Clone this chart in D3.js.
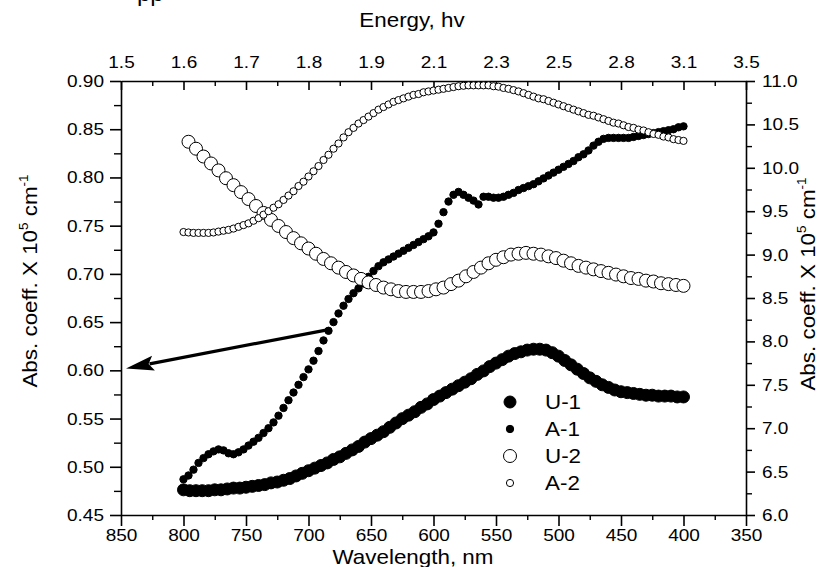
<!DOCTYPE html>
<html>
<head>
<meta charset="utf-8">
<script src="https://cdn.jsdelivr.net/npm/d3@7"></script>
<style>
  body { margin: 0; background: #fff; }
  svg { display: block; }
  text { font-family: "Liberation Sans", Arial, sans-serif; fill: #000; }
</style>
</head>
<body>
<div id="chart"></div>
<script>
// axis labels
const wavelengthTicks = [850, 800, 750, 700, 650, 600, 550, 500, 450, 400, 350];
const energyLabels = ["1.5", "1.6", "1.7", "1.8", "1.9", "2.1", "2.3", "2.5", "2.8", "3.1", "3.5"];
const leftTicks = [0.45, 0.50, 0.55, 0.60, 0.65, 0.70, 0.75, 0.80, 0.85, 0.90];
const rightTicks = [6.0, 6.5, 7.0, 7.5, 8.0, 8.5, 9.0, 9.5, 10.0, 10.5, 11.0];
const seriesNames = ["U-1", "A-1", "U-2", "A-2"];

// U-1: 800 -> 400 nm every 5 nm (right axis)
const u1Values = [
  6.29, 6.28, 6.28, 6.28, 6.28, 6.29, 6.29, 6.30, 6.31, 6.31,
  6.32, 6.33, 6.34, 6.35, 6.37, 6.38, 6.40, 6.42, 6.45, 6.48,
  6.51, 6.54, 6.57, 6.60, 6.64, 6.67, 6.71, 6.75, 6.79, 6.84,
  6.88, 6.92, 6.96, 7.01, 7.06, 7.11, 7.15, 7.19, 7.24, 7.28,
  7.33, 7.37, 7.41, 7.45, 7.49, 7.53, 7.57, 7.62, 7.66, 7.71,
  7.75, 7.79, 7.83, 7.86, 7.88, 7.90, 7.91, 7.91, 7.90, 7.87,
  7.83, 7.78, 7.73, 7.68, 7.63, 7.58, 7.54, 7.50, 7.47, 7.44,
  7.42, 7.41, 7.40, 7.39, 7.38, 7.38, 7.37, 7.37, 7.37, 7.36,
  7.36
];

// A-1: 800 -> 400 nm every 4 nm (left axis)
const a1Values = [
  0.487, 0.491, 0.497, 0.504, 0.509, 0.513, 0.516, 0.518, 0.517, 0.514,
  0.513, 0.515, 0.518, 0.522, 0.526, 0.530, 0.535, 0.540, 0.546, 0.553,
  0.561, 0.569, 0.577, 0.585, 0.593, 0.601, 0.610, 0.620, 0.631, 0.641,
  0.650, 0.659, 0.667, 0.674, 0.680, 0.685, 0.690, 0.697, 0.703, 0.708,
  0.712, 0.715, 0.718, 0.721, 0.724, 0.727, 0.730, 0.733, 0.736, 0.739,
  0.743, 0.752, 0.764, 0.775, 0.782, 0.785, 0.782, 0.779, 0.776, 0.772,
  0.780, 0.780, 0.779, 0.779, 0.780, 0.782, 0.784, 0.787, 0.789, 0.791,
  0.793, 0.796, 0.799, 0.802, 0.805, 0.808, 0.811, 0.814, 0.817, 0.821,
  0.824, 0.828, 0.833, 0.837, 0.840, 0.841, 0.841, 0.841, 0.841, 0.841,
  0.842, 0.843, 0.844, 0.845, 0.846, 0.847, 0.848, 0.849, 0.850, 0.852,
  0.853
];

// U-2: 796 -> 400 nm every 6 nm (right axis)
const u2Values = [
  10.30, 10.22, 10.13, 10.05, 9.97, 9.88, 9.80, 9.72, 9.64, 9.56,
  9.48, 9.40, 9.33, 9.26, 9.19, 9.13, 9.07, 9.01, 8.95, 8.90,
  8.85, 8.80, 8.76, 8.72, 8.68, 8.65, 8.62, 8.60, 8.58, 8.57,
  8.57, 8.57, 8.58, 8.60, 8.62, 8.66, 8.70, 8.75, 8.80, 8.85,
  8.90, 8.94, 8.97, 9.00, 9.01, 9.02, 9.01, 9.00, 8.98, 8.96,
  8.93, 8.90, 8.87, 8.85, 8.83, 8.81, 8.79, 8.77, 8.75, 8.73,
  8.72, 8.70, 8.69, 8.67, 8.66, 8.65, 8.64
];

// A-2: 800 -> 400 nm every 4 nm (right axis)
const a2Values = [
  9.26, 9.255, 9.25, 9.25, 9.25, 9.25, 9.255, 9.265, 9.275, 9.285,
  9.30, 9.32, 9.34, 9.36, 9.39, 9.42, 9.46, 9.50, 9.54, 9.58,
  9.63, 9.68, 9.73, 9.79, 9.84, 9.90, 9.96, 10.02, 10.09, 10.15,
  10.22, 10.28, 10.35, 10.41, 10.46, 10.51, 10.55, 10.59, 10.63, 10.67,
  10.70, 10.73, 10.76, 10.78, 10.80, 10.82, 10.84, 10.85, 10.87, 10.88,
  10.89, 10.90, 10.91, 10.92, 10.93, 10.94, 10.945, 10.95, 10.95, 10.95,
  10.95, 10.95, 10.94, 10.935, 10.92, 10.91, 10.895, 10.88, 10.86, 10.84,
  10.82, 10.80, 10.79, 10.77, 10.75, 10.73, 10.71, 10.69, 10.67, 10.65,
  10.63, 10.61, 10.60, 10.58, 10.56, 10.54, 10.52, 10.51, 10.49, 10.47,
  10.46, 10.44, 10.43, 10.41, 10.39, 10.38, 10.36, 10.35, 10.33, 10.32,
  10.31
];

// arrow from the A-1 curve to the left axis (wavelength, left value)
const arrowFrom = [685, 0.642];
const arrowTo = [846, 0.602];

const W = 818, H = 567;
const plotL = 121, plotR = 746, plotT = 81, plotB = 515;
const stretchX = 1.12;
const tickFont = 17;

const svg = d3.select("#chart").append("svg")
  .attr("width", W).attr("height", H)
  .attr("viewBox", [0, 0, W, H]);

const x = d3.scaleLinear().domain([850, 350]).range([plotL, plotR]);
const yL = d3.scaleLinear().domain([0.45, 0.90]).range([plotB, plotT]);
const yR = d3.scaleLinear().domain([6, 11]).range([plotB, plotT]);

// text in the original looks a bit wider than Arial
function stretch(sel) {
  sel.each(function() {
    const t = d3.select(this);
    const tx = +t.attr("x") || 0, ty = +t.attr("y") || 0;
    t.attr("x", null).attr("y", null)
      .attr("transform", `translate(${tx},${ty}) scale(${stretchX},1)`);
  });
}

function styleAxis(g, fontSize) {
  g.attr("font-family", null).attr("font-size", fontSize);
  g.select(".domain").attr("stroke-width", 1.6);
  g.selectAll(".tick line").attr("stroke-width", 1.6);
  stretch(g.selectAll("text"));
}

function minorAxis(axis, values, size) {
  return g => {
    g.call(axis.tickValues(values).tickFormat("").tickSizeInner(size).tickSizeOuter(0));
    g.select(".domain").remove();
    g.selectAll(".tick line").attr("stroke-width", 1.4);
  };
}

const minorX = wavelengthTicks.slice(1).map(d => d + 25);
const minorL = leftTicks.slice(1).map(d => d - 0.025);
const minorR = rightTicks.slice(1).map(d => d - 0.25);

// bottom axis
svg.append("g").attr("transform", `translate(0,${plotB})`)
  .call(d3.axisBottom(x).tickValues(wavelengthTicks).tickFormat(d3.format("d"))
    .tickSizeInner(11).tickSizeOuter(0).tickPadding(3))
  .call(g => styleAxis(g, tickFont));
svg.append("g").attr("transform", `translate(0,${plotB})`)
  .call(minorAxis(d3.axisBottom(x), minorX, 5));

// top axis (energy), ticks pointing inward
svg.append("g").attr("transform", `translate(0,${plotT})`)
  .call(d3.axisTop(x).tickValues(wavelengthTicks).tickFormat((d, i) => energyLabels[i])
    .tickSizeInner(-9).tickSizeOuter(0).tickPadding(13))
  .call(g => styleAxis(g, tickFont));
svg.append("g").attr("transform", `translate(0,${plotT})`)
  .call(minorAxis(d3.axisTop(x), minorX, -5));

// left axis
svg.append("g").attr("transform", `translate(${plotL},0)`)
  .call(d3.axisLeft(yL).tickValues(leftTicks).tickFormat(d3.format(".2f"))
    .tickSizeInner(11).tickSizeOuter(0).tickPadding(6))
  .call(g => styleAxis(g, tickFont));
svg.append("g").attr("transform", `translate(${plotL},0)`)
  .call(minorAxis(d3.axisLeft(yL), minorL, 7));

// right axis
svg.append("g").attr("transform", `translate(${plotR},0)`)
  .call(d3.axisRight(yR).tickValues(rightTicks).tickFormat(d3.format(".1f"))
    .tickSizeInner(9).tickSizeOuter(0).tickPadding(7))
  .call(g => styleAxis(g, tickFont));
svg.append("g").attr("transform", `translate(${plotR},0)`)
  .call(minorAxis(d3.axisRight(yR), minorR, 6));

// series
const series = [
  { name: seriesNames[0], values: u1Values, start: 800, step: 5, y: yR, r: 6, fill: "#000" },
  { name: seriesNames[1], values: a1Values, start: 800, step: 4, y: yL, r: 3.7, fill: "#000" },
  { name: seriesNames[2], values: u2Values, start: 796, step: 6, y: yR, r: 6.5, fill: "#fff" },
  { name: seriesNames[3], values: a2Values, start: 800, step: 4, y: yR, r: 3.6, fill: "#fff" }
];

series.forEach(s => {
  svg.append("g")
    .selectAll("circle")
    .data(s.values)
    .join("circle")
    .attr("cx", (d, i) => x(s.start - i * s.step))
    .attr("cy", d => s.y(d))
    .attr("r", s.r)
    .attr("fill", s.fill)
    .attr("stroke", "#000")
    .attr("stroke-width", 1);
});

// arrow
const ax0 = x(arrowFrom[0]), ay0 = yL(arrowFrom[1]);
const ax1 = x(arrowTo[0]), ay1 = yL(arrowTo[1]);
const len = Math.hypot(ax1 - ax0, ay1 - ay0);
const ux = (ax1 - ax0) / len, uy = (ay1 - ay0) / len;
const headLen = 28, headW = 7.5;
const bx = ax1 - ux * headLen, by = ay1 - uy * headLen;
svg.append("line")
  .attr("x1", ax0).attr("y1", ay0)
  .attr("x2", bx + ux * 4).attr("y2", by + uy * 4)
  .attr("stroke", "#000").attr("stroke-width", 3.2);
svg.append("polygon")
  .attr("points", [
    [ax1, ay1],
    [bx - uy * headW, by + ux * headW],
    [bx + ux * 5, by + uy * 5],
    [bx + uy * headW, by - ux * headW]
  ].map(p => p.join(",")).join(" "))
  .attr("fill", "#000");

// legend
const legend = svg.append("g");
series.forEach((s, i) => {
  const ly = 402 + i * 27;
  legend.append("circle")
    .attr("cx", 510).attr("cy", ly).attr("r", s.r)
    .attr("fill", s.fill).attr("stroke", "#000").attr("stroke-width", 1);
  legend.append("text")
    .attr("x", 545).attr("y", ly).attr("dy", "0.36em")
    .attr("font-size", 20)
    .text(s.name);
});
stretch(legend.selectAll("text"));

// axis titles
svg.append("text")
  .attr("transform", `translate(412,27) scale(${stretchX},1)`)
  .attr("text-anchor", "middle").attr("font-size", 20)
  .text("Energy, hv");

svg.append("text")
  .attr("transform", `translate(413,564) scale(${stretchX},1)`)
  .attr("text-anchor", "middle").attr("font-size", 20)
  .text("Wavelength, nm");

function yTitle(tx, ty) {
  const t = svg.append("text")
    .attr("transform", `translate(${tx},${ty}) rotate(-90) scale(${stretchX},1)`)
    .attr("text-anchor", "middle").attr("font-size", 20);
  t.append("tspan").text("Abs. coeff. X 10");
  t.append("tspan").attr("font-size", 12).attr("dy", -9).text("5");
  t.append("tspan").attr("dy", 9).text(" cm");
  t.append("tspan").attr("font-size", 12).attr("dy", -9).text("-1");
}
yTitle(37, 281);
yTitle(815, 284);

// cut-off text from the page above the figure
svg.append("text")
  .attr("x", 137).attr("y", 1)
  .attr("font-family", "'Liberation Serif', 'Times New Roman', serif")
  .attr("font-size", 24)
  .text("pp");
</script>
</body>
</html>
